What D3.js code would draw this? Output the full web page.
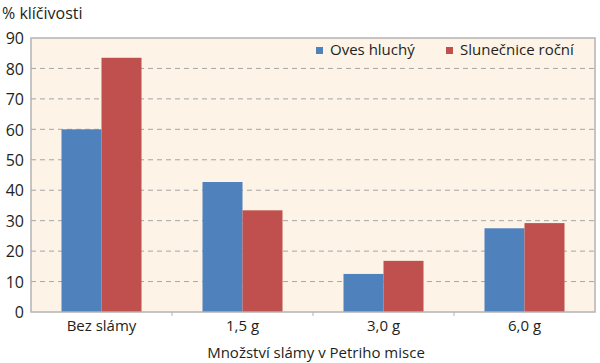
<!DOCTYPE html>
<html>
<head>
<meta charset="utf-8">
<script src="https://cdn.jsdelivr.net/npm/d3@7"></script>
<style>
  body { margin: 0; background: #fff; }
  text { font-family: "Open Sans", "Noto Sans", sans-serif; fill: #231f20; }
</style>
</head>
<body>
<div class="chart"></div>
<script>
// data
const categories = ['Bez slámy', '1,5 g', '3,0 g', '6,0 g']
const seriesNames = ['Oves hluchý', 'Slunečnice roční']
const oves = [60, 42.7, 12.5, 27.5]
const slunecnice = [83.5, 33.4, 16.8, 29.2]
const yTicks = [0, 10, 20, 30, 40, 50, 60, 70, 80, 90]
const colors = ['#4f81bd', '#c0504d']

const margin = {top: 38, right: 5, bottom: 51, left: 31}
const width = 600 - margin.left - margin.right
const height = 363 - margin.top - margin.bottom

const svg = d3.select('.chart')
  .append('svg')
    .attr('width', 600)
    .attr('height', 363)
  .append('g')
    .attr('transform', `translate(${margin.left}, ${margin.top})`)

const xScale = d3.scaleBand()
  .domain(categories)
  .range([0, width])

const xInner = d3.scaleBand()
  .domain(seriesNames)
  .range([0, 80])

const yScale = d3.scaleLinear()
  .domain([0, 90])
  .range([height, 0])

// plot background
svg.append('rect')
  .attr('width', width)
  .attr('height', height)
  .style('fill', '#fdf3e7')

// dashed grid
svg.selectAll('.grid')
  .data(yTicks.filter(d => d > 0 && d < 90))
  .enter()
  .append('line')
    .attr('class', 'grid')
    .attr('x1', 0)
    .attr('x2', width)
    .attr('y1', d => yScale(d))
    .attr('y2', d => yScale(d))
    .style('stroke', '#a6a6a6')
    .style('stroke-width', 1)
    .style('stroke-dasharray', '5,4')

// bars
const rows = categories.map((c, i) => ({cat: c, values: [oves[i], slunecnice[i]]}))

const groups = svg.selectAll('.group')
  .data(rows)
  .enter()
  .append('g')
    .attr('transform', d => `translate(${xScale(d.cat) + (xScale.bandwidth() - 80) / 2}, 0)`)

groups.selectAll('rect')
  .data(d => d.values.map((v, i) => ({name: seriesNames[i], v, i})))
  .enter()
  .append('rect')
    .attr('x', d => xInner(d.name))
    .attr('y', d => yScale(d.v))
    .attr('width', xInner.bandwidth())
    .attr('height', d => height - yScale(d.v))
    .style('fill', d => colors[d.i])

// frame
svg.append('rect')
  .attr('width', width)
  .attr('height', height)
  .style('fill', 'none')
  .style('stroke', '#b3b3b3')
  .style('stroke-width', 1.5)

// y axis
const yAxis = svg.append('g')
  .call(d3.axisLeft(yScale).tickValues(yTicks).tickSize(0).tickPadding(7))
yAxis.select('.domain').remove()
yAxis.selectAll('text')
  .style('font-size', '16px')
  .attr('dy', '0.36em')

// x axis
const xAxis = svg.append('g')
  .attr('transform', `translate(0, ${height})`)
  .call(d3.axisBottom(xScale).tickSize(0).tickPadding(8))
xAxis.select('.domain').remove()
xAxis.selectAll('text').style('font-size', '15px')

// little ticks between categories
svg.selectAll('.xtick')
  .data(categories.slice(1))
  .enter()
  .append('line')
    .attr('x1', d => xScale(d))
    .attr('x2', d => xScale(d))
    .attr('y1', height)
    .attr('y2', height + 4)
    .style('stroke', '#b3b3b3')

// titles
svg.append('text')
  .attr('x', width / 2 + 3)
  .attr('y', height + 46)
  .attr('text-anchor', 'middle')
  .style('font-size', '15px')
  .text('Množství slámy v Petriho misce')

svg.append('text')
  .attr('x', -margin.left + 2)
  .attr('y', -19)
  .style('font-size', '16px')
  .text('% klíčivosti')

// legend
const legendX = [285, 415]
const legend = svg.selectAll('.legend')
  .data(seriesNames)
  .enter()
  .append('g')
    .attr('transform', (d, i) => `translate(${legendX[i]}, 9)`)

legend.append('rect')
  .attr('width', 7)
  .attr('height', 7)
  .style('fill', (d, i) => colors[i])

legend.append('text')
  .attr('x', 14)
  .attr('y', 8)
  .style('font-size', '15px')
  .text(d => d)
</script>
</body>
</html>
